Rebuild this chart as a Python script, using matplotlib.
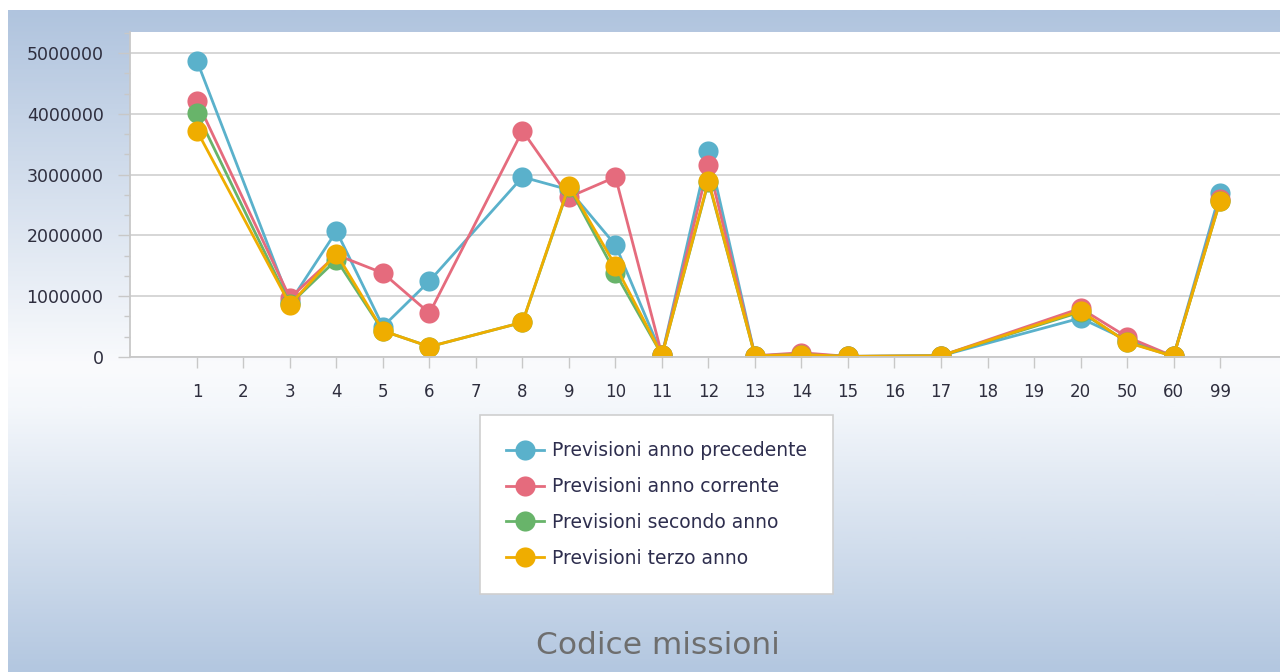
import matplotlib.pyplot as plt
import numpy as np
from matplotlib.colors import LinearSegmentedColormap
from matplotlib.ticker import MultipleLocator

# ---------------------------------------------------------------------------
# Dati ----------------------------------------------------------------------
# ---------------------------------------------------------------------------
codici = ["1", "2", "3", "4", "5", "6", "7", "8", "9", "10", "11", "12",
          "13", "14", "15", "16", "17", "18", "19", "20", "50", "60", "99"]

nan = np.nan
anno_precedente = [4870000, nan, 900000, 2070000, 500000, 1250000, nan, 2960000,
                   2750000, 1840000, 30000, 3390000, 20000, 50000, 10000, nan,
                   20000, nan, nan, 640000, 280000, 10000, 2700000]
anno_corrente = [4210000, nan, 970000, 1680000, 1380000, 720000, nan, 3720000,
                 2630000, 2960000, 30000, 3160000, 20000, 70000, 10000, nan,
                 20000, nan, nan, 800000, 330000, 10000, 2600000]
secondo_anno = [4010000, nan, 870000, 1600000, 430000, 170000, nan, 570000,
                2800000, 1380000, 30000, 2880000, 20000, 40000, 10000, nan,
                20000, nan, nan, 740000, 250000, 10000, 2560000]
terzo_anno = [3720000, nan, 860000, 1700000, 430000, 170000, nan, 570000,
              2820000, 1500000, 30000, 2900000, 20000, 40000, 10000, nan,
              20000, nan, nan, 760000, 240000, 10000, 2560000]

serie = [
    ("Previsioni anno precedente", anno_precedente, "#5AB1CB"),
    ("Previsioni anno corrente", anno_corrente, "#E56B7D"),
    ("Previsioni secondo anno", secondo_anno, "#68B46A"),
    ("Previsioni terzo anno", terzo_anno, "#EFAD00"),
]

# ---------------------------------------------------------------------------
# Figura --------------------------------------------------------------------
# ---------------------------------------------------------------------------
W, H = 1280, 672
fig = plt.figure(figsize=(W / 100, H / 100), dpi=100)
fig.patch.set_facecolor("white")

# sfondo sfumato (blu -> bianco -> blu)
bg = fig.add_axes([8 / W, 0, 1 - 8 / W, 662 / H], zorder=-10)
cmap = LinearSegmentedColormap.from_list(
    "bg", [(0.0, "#B0C4DE"), (0.54, "#FAFBFD"), (0.60, "#F4F7FB"), (1.0, "#B3C7E0")])
grad = np.linspace(0, 1, 400).reshape(-1, 1)
bg.imshow(grad, aspect="auto", cmap=cmap, extent=[0, 1, 0, 1], origin="upper")
bg.set_axis_off()

ax = fig.add_axes([130 / W, (H - 357) / H, (W - 130) / W, (357 - 32) / H])
ax.set_facecolor("white")

x = np.arange(len(codici))
for label, vals, col in serie:
    v = np.array(vals, dtype=float)
    m = np.isfinite(v)
    ax.plot(x[m], v[m], color=col, lw=2.0, marker="o", ms=14.5,
            markeredgewidth=0, label=label, clip_on=True)

ax.set_xlim(-1.44, 23.29)
ax.set_ylim(0, 5345000)
ax.set_xticks(x)
ax.set_xticklabels(codici)
ax.yaxis.set_major_locator(MultipleLocator(1000000))
ax.yaxis.set_minor_locator(MultipleLocator(1000000 / 3))
ax.yaxis.set_major_formatter(plt.FuncFormatter(lambda v, _: f"{int(v)}"))

ax.grid(axis="y", color="#D3D3D3", lw=1.3)
ax.set_axisbelow(True)
for s in ("top", "right"):
    ax.spines[s].set_visible(False)
for s in ("left", "bottom"):
    ax.spines[s].set_color("#C8C8C8")
    ax.spines[s].set_linewidth(1.3)

ax.tick_params(axis="x", length=8, width=1, color="#C8C8C8", pad=11,
               labelsize=12, labelcolor="#2E2E3E")
ax.tick_params(axis="y", which="major", length=9, width=1, color="#C8C8C8",
               pad=10, labelsize=12.5, labelcolor="#2E2E3E")
ax.tick_params(axis="y", which="minor", length=4, width=1, color="#C8C8C8")

leg = fig.legend(loc="upper left", bbox_to_anchor=(480 / W, 1 - 415 / H),
                 frameon=True, fancybox=False, framealpha=1, fontsize=13.5,
                 borderpad=1.4, labelspacing=0.9, handlelength=2.0,
                 handletextpad=0.45, borderaxespad=0)
leg.get_frame().set_edgecolor("#CFCFCF")
leg.get_frame().set_linewidth(1.2)
for t in leg.get_texts():
    t.set_color("#2E2E4E")

fig.text(658 / W, 1 - 645 / H, "Codice missioni", ha="center", va="center",
         fontsize=22.5, color="#6E6E6E")

fig.savefig("out.png", dpi=100)
